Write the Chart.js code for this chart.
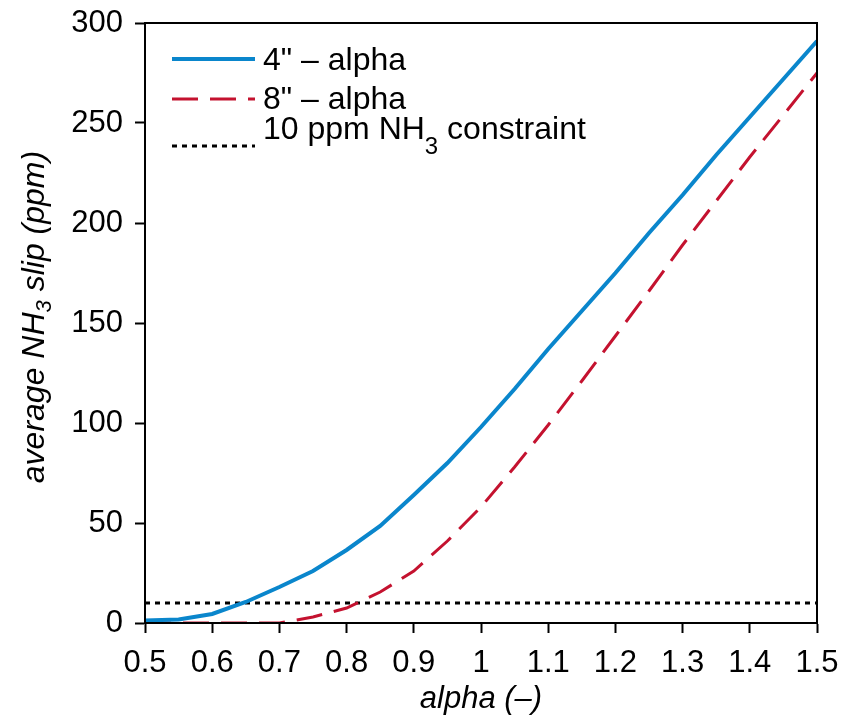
<!DOCTYPE html>
<html>
<head>
<meta charset="utf-8">
<script src="https://cdn.jsdelivr.net/npm/chart.js@4.4.1/dist/chart.umd.min.js"></script>
<style>
  html, body { margin: 0; padding: 0; background: #fff; }
</style>
</head>
<body>
<canvas id="slipChart" width="853" height="718"></canvas>
<script>
// values
const alphaValues = [0.5, 0.55, 0.6, 0.65, 0.7, 0.75, 0.8, 0.85, 0.9, 0.95, 1.0,
  1.05, 1.1, 1.15, 1.2, 1.25, 1.3, 1.35, 1.4, 1.45, 1.5];
const slip4in = [1.2, 1.8, 4.5, 10.5, 18, 26, 36.5, 48.5, 64, 80, 98,
  117, 137, 156, 175, 195, 214, 234, 253, 272, 291];
const slip8in = [0, 0, 0, 0, 0, 3, 7.5, 15.5, 26, 41, 58,
  78, 99, 121, 143.5, 166, 189, 211, 233, 254, 275];
const constraintX = [0.5, 1.5];
const constraintY = [10, 10];
const xTicks = [0.5, 0.6, 0.7, 0.8, 0.9, 1, 1.1, 1.2, 1.3, 1.4, 1.5];
const yTicks = [0, 50, 100, 150, 200, 250, 300];

const FONT = "'Liberation Sans', Arial, sans-serif";
const BLUE = '#0a86cc';
const RED = '#c4122f';

const toPoints = (xs, ys) => xs.map((x, i) => ({ x: x, y: ys[i] }));

// box around the plot area
const framePlugin = {
  id: 'frame',
  afterDraw(chart) {
    const { ctx, chartArea: a } = chart;
    ctx.save();
    ctx.strokeStyle = '#000';
    ctx.lineWidth = 2;
    ctx.strokeRect(a.left, a.top, a.right - a.left, a.bottom - a.top);
    ctx.restore();
  }
};

// draws text pieces, some as subscripts
const drawParts = (ctx, parts, x, y, size, style, sub) => {
  let cx = x;
  parts.forEach(p => {
    ctx.font = style + (p.sub ? sub.size : size) + 'px ' + FONT;
    ctx.fillText(p.t, cx, p.sub ? y + sub.shift : y);
    cx += ctx.measureText(p.t).width;
  });
};
const partsWidth = (ctx, parts, size, style, sub) => {
  let w = 0;
  parts.forEach(p => {
    ctx.font = style + (p.sub ? sub.size : size) + 'px ' + FONT;
    w += ctx.measureText(p.t).width;
  });
  return w;
};

const titlesPlugin = {
  id: 'titles',
  afterDraw(chart) {
    const { ctx, chartArea: a } = chart;
    ctx.save();
    ctx.fillStyle = '#000';
    ctx.textBaseline = 'middle';
    ctx.textAlign = 'left';

    // x title
    const xParts = [{ t: 'alpha (\u2013)' }];
    const xw = partsWidth(ctx, xParts, 31, 'italic ', null);
    drawParts(ctx, xParts, (a.left + a.right) / 2 - xw / 2, 699, 31, 'italic ', null);

    // y title
    const ySub = { size: 22, shift: 10 };
    const yParts = [{ t: 'average NH' }, { t: '3', sub: true }, { t: ' slip (ppm)' }];
    const yw = partsWidth(ctx, yParts, 32, 'italic ', ySub);
    ctx.translate(35, 317);
    ctx.rotate(-Math.PI / 2);
    drawParts(ctx, yParts, -yw / 2, 0, 32, 'italic ', ySub);
    ctx.restore();

    // legend
    const legSub = { size: 24, shift: 17 };
    const rows = [
      { color: BLUE, dash: [], width: 4, lineY: 59, textY: 61, parts: [{ t: '4" \u2013 alpha' }] },
      { color: RED, dash: [26, 12], width: 3, lineY: 99, textY: 100, parts: [{ t: '8" \u2013 alpha' }] },
      { color: '#000', dash: [5, 5], width: 3, lineY: 146, textY: 130,
        parts: [{ t: '10 ppm NH' }, { t: '3', sub: true }, { t: ' constraint' }] }
    ];
    ctx.save();
    ctx.textBaseline = 'middle';
    ctx.textAlign = 'left';
    rows.forEach(r => {
      ctx.strokeStyle = r.color;
      ctx.lineWidth = r.width;
      ctx.setLineDash(r.dash);
      ctx.beginPath();
      ctx.moveTo(172, r.lineY);
      ctx.lineTo(255, r.lineY);
      ctx.stroke();
      ctx.setLineDash([]);
      ctx.fillStyle = '#000';
      drawParts(ctx, r.parts, 263, r.textY, 32, '', legSub);
    });
    ctx.restore();
  }
};

new Chart(document.getElementById('slipChart'), {
  type: 'line',
  data: {
    datasets: [
      {
        label: '4" - alpha',
        data: toPoints(alphaValues, slip4in),
        borderColor: BLUE,
        borderWidth: 4,
        pointRadius: 0,
        tension: 0
      },
      {
        label: '8" - alpha',
        data: toPoints(alphaValues, slip8in),
        borderColor: RED,
        borderWidth: 3,
        borderDash: [26, 12],
        pointRadius: 0,
        tension: 0
      },
      {
        label: '10 ppm NH3 constraint',
        data: toPoints(constraintX, constraintY),
        borderColor: '#000',
        borderWidth: 3,
        borderDash: [5, 5],
        pointRadius: 0
      }
    ]
  },
  options: {
    responsive: false,
    animation: false,
    layout: { padding: { top: 23, right: 36, bottom: 0, left: 0 } },
    plugins: {
      legend: { display: false },
      tooltip: { enabled: false }
    },
    scales: {
      x: {
        type: 'linear',
        min: 0.5,
        max: 1.5,
        afterBuildTicks: (scale) => { scale.ticks = xTicks.map(v => ({ value: v })); },
        afterFit: (scale) => {
          scale.height = 95;
          scale.paddingLeft = 0;
          scale.paddingRight = 0;
        },
        ticks: {
          color: '#000',
          font: { family: FONT, size: 31 },
          padding: 12,
          maxRotation: 0,
          callback: (v) => String(Number(v.toFixed(1)))
        },
        grid: { drawOnChartArea: false, tickLength: 10, tickColor: '#000', tickWidth: 2 },
        border: { color: '#000', width: 2 }
      },
      y: {
        min: 0,
        max: 300,
        afterBuildTicks: (scale) => { scale.ticks = yTicks.map(v => ({ value: v })); },
        afterFit: (scale) => {
          scale.width = 145;
          scale.paddingTop = 0;
          scale.paddingBottom = 0;
        },
        ticks: {
          color: '#000',
          font: { family: FONT, size: 31 },
          padding: 12
        },
        grid: { drawOnChartArea: false, tickLength: 10, tickColor: '#000', tickWidth: 2 },
        border: { color: '#000', width: 2 }
      }
    }
  },
  plugins: [framePlugin, titlesPlugin]
});
</script>
</body>
</html>
